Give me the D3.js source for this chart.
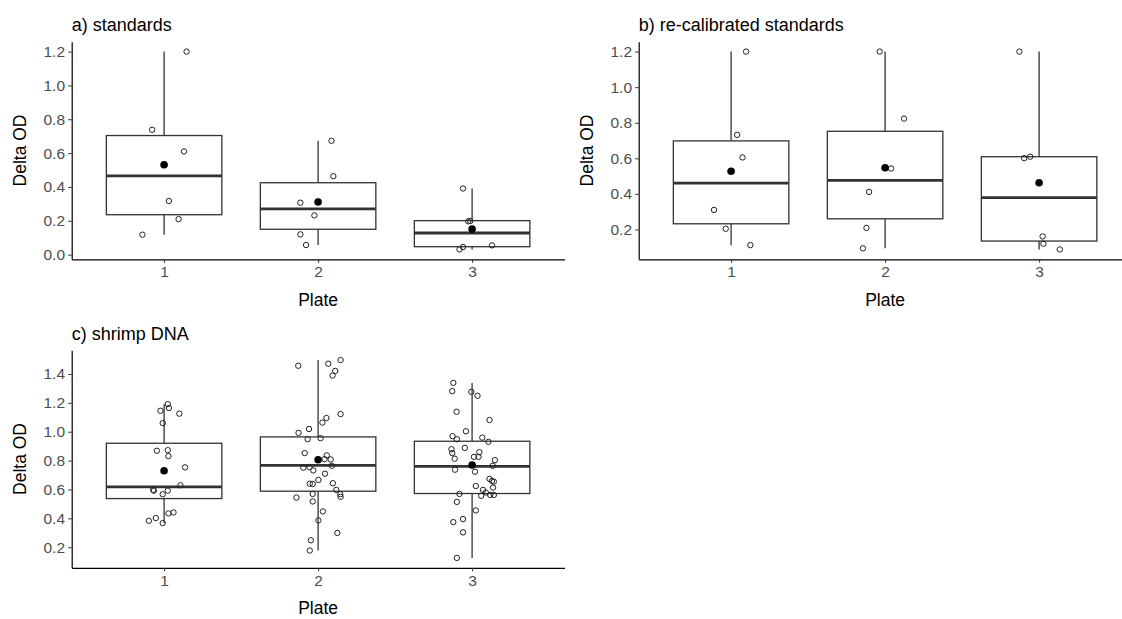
<!DOCTYPE html>
<html>
<head>
<meta charset="utf-8">
<script src="https://cdn.jsdelivr.net/npm/d3@7"></script>
<style>
  body { margin: 0; background: #fff; }
  svg { display: block; font-family: "Liberation Sans", Arial, sans-serif; }
</style>
</head>
<body>
<div id="chart"></div>
<script>
// plates on the x axis
var plates = ['1', '2', '3'];

// box stats per plate: [lower whisker, q1, median, q3, upper whisker]
var standardsBox = [[0.118, 0.236, 0.466, 0.704, 1.2], [0.057, 0.150, 0.270, 0.425, 0.673], [0.031, 0.047, 0.128, 0.201, 0.391]];
var standardsMean = [0.531, 0.311, 0.151];
// points per plate: [value, jitter (in plate units)]
var standardsPts = [
  [[0.118, -0.141], [0.21, 0.094], [0.317, 0.031], [0.61, 0.129], [0.738, -0.078], [1.2, 0.146]],
  [[0.057, -0.078], [0.12, -0.115], [0.232, -0.024], [0.307, -0.115], [0.464, 0.099], [0.673, 0.087]],
  [[0.031, -0.082], [0.045, -0.059], [0.055, 0.129], [0.197, -0.025], [0.199, -0.012], [0.391, -0.059]]
];

var recalBox = [[0.112, 0.232, 0.461, 0.698, 1.2], [0.094, 0.260, 0.476, 0.752, 1.2], [0.088, 0.135, 0.379, 0.609, 1.2]];
var recalMean = [0.527, 0.547, 0.463];
var recalPts = [
  [[0.112, 0.125], [0.204, -0.035], [0.31, -0.111], [0.605, 0.074], [0.732, 0.039], [1.2, 0.097]],
  [[0.094, -0.144], [0.209, -0.121], [0.411, -0.104], [0.543, 0.039], [0.823, 0.123], [1.2, -0.035]],
  [[0.088, 0.134], [0.12, 0.028], [0.161, 0.023], [0.601, -0.097], [0.609, -0.058], [1.2, -0.128]]
];

var shrimpBox = [[0.367, 0.537, 0.618, 0.920, 1.191], [0.177, 0.588, 0.767, 0.964, 1.496], [0.126, 0.572, 0.760, 0.934, 1.338]];
var shrimpMean = [0.730, 0.806, 0.769];
var shrimpPts = [
  [[1.191, 0.024], [1.145, -0.024], [1.164, 0.031], [1.125, 0.099], [1.060, -0.009], [0.868, -0.047],
   [0.872, 0.024], [0.831, 0.028], [0.753, 0.136], [0.629, 0.106], [0.597, -0.071], [0.592, -0.066],
   [0.592, 0.024], [0.567, -0.009], [0.383, -0.099], [0.402, -0.054], [0.367, -0.009], [0.434, 0.028],
   [0.441, 0.061]],
  [[1.457, -0.129], [1.471, 0.066], [1.496, 0.146], [1.421, 0.111], [1.389, 0.094], [1.122, 0.146],
   [1.095, 0.054], [1.063, 0.028], [0.992, -0.127], [1.019, -0.059], [0.948, -0.068], [0.955, 0.016],
   [0.852, -0.087], [0.836, 0.056], [0.810, 0.042], [0.808, 0.082], [0.751, -0.096], [0.755, -0.056],
   [0.732, -0.031], [0.764, 0.089], [0.709, 0.045], [0.666, 0.002], [0.640, -0.054], [0.638, -0.035],
   [0.643, 0.096], [0.597, 0.118], [0.567, 0.144], [0.549, 0.146], [0.544, -0.141], [0.569, -0.035],
   [0.517, -0.035], [0.448, 0.031], [0.386, 0.002], [0.299, 0.125], [0.248, -0.047], [0.177, -0.054]],
  [[1.338, -0.122], [1.281, -0.129], [1.276, -0.005], [1.249, 0.035], [1.138, -0.101], [1.081, 0.113],
   [1.003, -0.040], [0.969, -0.127], [0.948, -0.099], [0.959, 0.066], [0.930, 0.106], [0.879, -0.134],
   [0.852, -0.129], [0.888, -0.047], [0.858, 0.047], [0.826, 0.042], [0.826, 0.012], [0.813, -0.113],
   [0.803, 0.148], [0.764, 0.134], [0.737, -0.111], [0.723, 0.019], [0.624, 0.024], [0.673, 0.113],
   [0.659, 0.129], [0.654, 0.141], [0.613, 0.136], [0.597, 0.071], [0.569, -0.082], [0.579, 0.089],
   [0.556, 0.059], [0.562, 0.118], [0.562, 0.141], [0.514, -0.099], [0.455, 0.024], [0.395, -0.059],
   [0.374, -0.122], [0.303, -0.059], [0.126, -0.099]]
];

var W = 1122, H = 619;
var colW = 567, rowH = 308.5;
var margin = {top: 41.7, right: 2.5, bottom: 49.2, left: 71.7};
var w = colW - margin.left - margin.right,
    h = rowH - margin.top - margin.bottom;

var svg = d3.select('#chart').append('svg')
    .attr('width', W)
    .attr('height', H);

function drawPanel(title, boxes, means, pts, ox, oy) {
  var g = svg.append('g')
      .attr('transform', 'translate(' + (ox + margin.left) + ',' + (oy + margin.top) + ')');

  var x = d3.scalePoint().domain(plates).range([0, w]).padding(0.6);

  // ggplot style 5% expansion over everything drawn
  var all = [];
  pts.forEach(function(p) { p.forEach(function(d) { all.push(d[0]); }); });
  boxes.forEach(function(b) { all.push(b[0], b[4]); });
  var lo = d3.min(all), hi = d3.max(all), pad = (hi - lo) * 0.05;
  var y = d3.scaleLinear().domain([lo - pad, hi + pad]).range([h, 0]);

  var bw = 0.75 * x.step();

  var box = g.selectAll('.box')
      .data(boxes)
      .enter().append('g')
      .attr('class', 'box')
      .attr('transform', function(d, i) { return 'translate(' + x(plates[i]) + ',0)'; });

  box.append('line')
      .attr('y1', function(d) { return y(d[0]); })
      .attr('y2', function(d) { return y(d[4]); })
      .attr('stroke', '#333')
      .attr('stroke-width', 1.3);

  box.append('rect')
      .attr('x', -bw / 2)
      .attr('width', bw)
      .attr('y', function(d) { return y(d[3]); })
      .attr('height', function(d) { return y(d[1]) - y(d[3]); })
      .attr('fill', '#fff')
      .attr('stroke', '#333')
      .attr('stroke-width', 1.3);

  box.append('line')
      .attr('x1', -bw / 2)
      .attr('x2', bw / 2)
      .attr('y1', function(d) { return y(d[2]); })
      .attr('y2', function(d) { return y(d[2]); })
      .attr('stroke', '#333')
      .attr('stroke-width', 2.8);

  // jittered raw points
  pts.forEach(function(p, i) {
    g.selectAll(null)
        .data(p)
        .enter().append('circle')
        .attr('cx', function(d) { return x(plates[i]) + d[1] * x.step(); })
        .attr('cy', function(d) { return y(d[0]); })
        .attr('r', 2.7)
        .attr('fill', 'none')
        .attr('stroke', '#222')
        .attr('stroke-width', 1);
  });

  g.selectAll('.mean')
      .data(means)
      .enter().append('circle')
      .attr('class', 'mean')
      .attr('cx', function(d, i) { return x(plates[i]); })
      .attr('cy', function(d) { return y(d); })
      .attr('r', 3.8)
      .attr('fill', '#000');

  var xAxis = g.append('g')
      .attr('transform', 'translate(0,' + h + ')')
      .call(d3.axisBottom(x).tickSize(3.5).tickSizeOuter(0).tickPadding(3.2));
  var yAxis = g.append('g')
      .call(d3.axisLeft(y).ticks(6).tickFormat(d3.format('.1f')).tickSize(3.5).tickSizeOuter(0).tickPadding(3.2));

  [xAxis, yAxis].forEach(function(a) {
    a.select('.domain').attr('stroke', '#000').attr('stroke-width', 1.2);
    a.selectAll('.tick line').attr('stroke', '#333');
    a.selectAll('.tick text')
        .attr('fill', '#4d4d4d')
        .attr('font-size', '15.5px')
        .style('font-family', '"Liberation Sans", Arial, sans-serif');
  });

  g.append('text')
      .attr('x', w / 2)
      .attr('y', h + 46.7)
      .attr('text-anchor', 'middle')
      .attr('font-size', '17.5px')
      .text('Plate');

  g.append('text')
      .attr('transform', 'translate(-45.7,' + (h / 2) + ') rotate(-90)')
      .attr('text-anchor', 'middle')
      .attr('font-size', '17.5px')
      .text('Delta OD');

  g.append('text')
      .attr('x', 0)
      .attr('y', 31 - margin.top)
      .attr('font-size', '18px')
      .text(title);
}

drawPanel('a) standards', standardsBox, standardsMean, standardsPts, 0, 0);
drawPanel('b) re-calibrated standards', recalBox, recalMean, recalPts, colW, 0);
drawPanel('c) shrimp DNA', shrimpBox, shrimpMean, shrimpPts, 0, rowH);
</script>
</body>
</html>
